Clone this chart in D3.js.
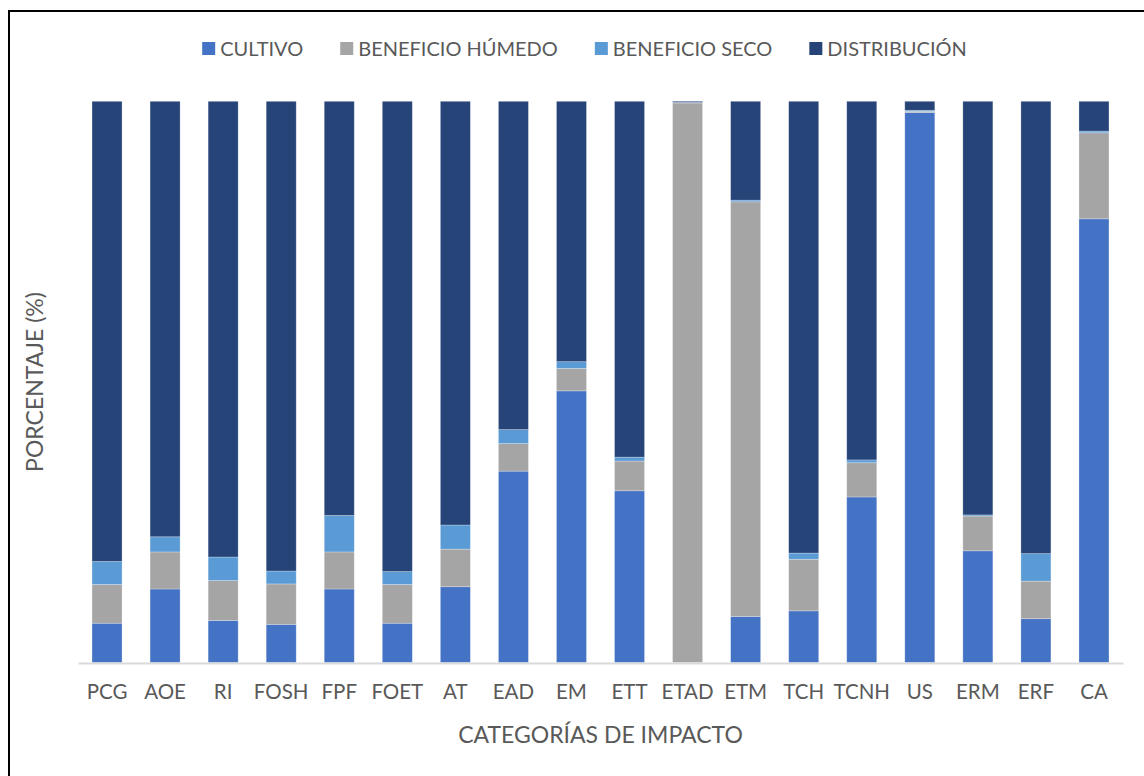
<!DOCTYPE html>
<html>
<head>
<meta charset="utf-8">
<script src="https://cdn.jsdelivr.net/npm/d3@7"></script>
<style>
  body { margin: 0; background: #fff; }
  text { font-family: Lato, "Open Sans", sans-serif; fill: #595959; }
</style>
</head>
<body>
<script>
const width = 1144;
const height = 776;

// categorías de impacto
const categories = ["PCG", "AOE", "RI", "FOSH", "FPF", "FOET", "AT", "EAD", "EM",
  "ETT", "ETAD", "ETM", "TCH", "TCNH", "US", "ERM", "ERF", "CA"];

// porcentajes (%)
const cultivo      = [7.0, 13.1, 7.5, 6.8, 13.1, 7.0, 13.5, 34.1, 48.4, 30.6, 0.0, 8.2, 9.2, 29.5, 98.0, 19.9, 7.8, 78.9];
const humedo       = [6.9, 6.6, 7.1, 7.2, 6.6, 6.9, 6.7, 4.9, 4.0, 5.3, 99.7, 73.8, 9.2, 6.1, 0.2, 6.2, 6.7, 15.3];
const seco         = [4.1, 2.7, 4.2, 2.3, 6.5, 2.3, 4.3, 2.5, 1.2, 0.7, 0.1, 0.3, 1.1, 0.5, 0.2, 0.2, 4.9, 0.3];
const distribucion = [82.0, 77.6, 81.2, 83.7, 73.8, 83.8, 75.5, 58.5, 46.4, 63.4, 0.2, 17.6, 80.5, 63.9, 1.6, 73.7, 80.6, 5.3];

const seriesNames = ["CULTIVO", "BENEFICIO HÚMEDO", "BENEFICIO SECO", "DISTRIBUCIÓN"];
const colors = ["#4472C4", "#A5A5A5", "#5B9BD5", "#264478"];

const rows = categories.map((c, i) => ({
  cat: c,
  "CULTIVO": cultivo[i],
  "BENEFICIO HÚMEDO": humedo[i],
  "BENEFICIO SECO": seco[i],
  "DISTRIBUCIÓN": distribucion[i]
}));

const stack = d3.stack()
  .keys(seriesNames)
  .offset(d3.stackOffsetExpand);
const layers = stack(rows);

const svg = d3.select("body")
  .append("svg")
  .attr("width", width)
  .attr("height", height);

// marco del gráfico
svg.append("rect")
  .attr("x", 9).attr("y", 11)
  .attr("width", 1160).attr("height", 800)
  .attr("fill", "none")
  .attr("stroke", "#000")
  .attr("stroke-width", 2);

const x = d3.scaleBand()
  .domain(categories)
  .range([78, 1123])
  .paddingInner(0.483)
  .paddingOuter(0.2415);

const y = d3.scaleLinear()
  .domain([0, 1])
  .range([662.5, 101.3]);

svg.append("g")
  .selectAll("g")
  .data(layers)
  .enter().append("g")
    .attr("fill", (d, i) => colors[i])
  .selectAll("rect")
  .data(d => d)
  .enter().append("rect")
    .attr("x", d => x(d.data.cat))
    .attr("width", x.bandwidth())
    .attr("y", d => y(d[1]))
    .attr("height", d => y(d[0]) - y(d[1]))
    .attr("stroke", "#ffffff")
    .attr("stroke-opacity", 0.35)
    .attr("stroke-width", 0.75);

// eje x
const xAxis = svg.append("g")
  .attr("transform", "translate(0," + 663 + ")")
  .call(d3.axisBottom(x).tickSize(0).tickPadding(21));
xAxis.select(".domain").attr("stroke", "#d9d9d9").attr("stroke-width", 2);
xAxis.selectAll("text")
  .style("font-size", "20.5px")
  .style("font-family", "Lato, sans-serif")
  .attr("fill", "#595959");

svg.append("text")
  .attr("x", 600.5)
  .attr("y", 743)
  .attr("text-anchor", "middle")
  .style("font-size", "23px")
  .text("CATEGORÍAS DE IMPACTO");

svg.append("text")
  .attr("transform", "translate(43,382) rotate(-90)")
  .attr("text-anchor", "middle")
  .style("font-size", "23px")
  .text("PORCENTAJE (%)");

// leyenda
const legend = svg.append("g");
let lx = 0;
seriesNames.forEach((name, i) => {
  const item = legend.append("g").attr("transform", "translate(" + lx + ",0)");
  item.append("rect")
    .attr("x", 0).attr("y", 42)
    .attr("width", 13).attr("height", 13)
    .attr("fill", colors[i]);
  const t = item.append("text")
    .attr("x", 18).attr("y", 56)
    .style("font-size", "20px")
    .text(name);
  lx += 18 + t.node().getComputedTextLength() + 37;
});
const legendWidth = lx - 37;
legend.attr("transform", "translate(" + (584.5 - legendWidth / 2) + ",0)");
</script>
</body>
</html>
